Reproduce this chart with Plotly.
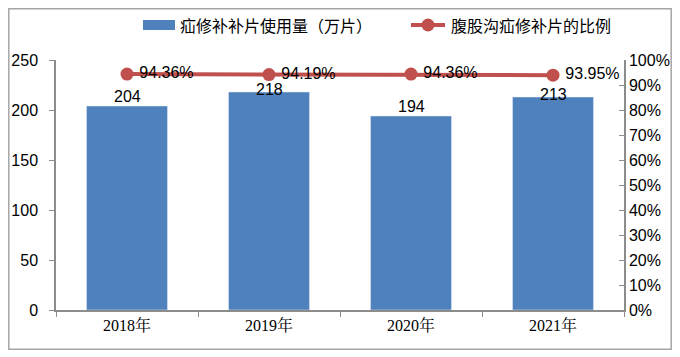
import plotly.graph_objects as go

categories = ["2018年", "2019年", "2020年", "2021年"]
usage = [204, 218, 194, 213]
ratio = [0.9436, 0.9419, 0.9436, 0.9395]
ratio_labels = ["94.36%", "94.19%", "94.36%", "93.95%"]
bar_name = "疝修补补片使用量（万片）"
line_name = "腹股沟疝修补片的比例"

FONT = "Liberation Sans, Arial, Noto Sans CJK SC, sans-serif"
CJK = "Noto Sans CJK SC, sans-serif"
BLUE = "#4F81BD"
RED = "#C0504D"
AXIS = "#8C8C8C"

# page body has an 8px margin, so the figure sits at (8, 8) in the window
OFF = 8
W, H = 672, 349
L, T = 56 - OFF, 60 - OFF
R = W - (624 - OFF)
B = H - (310 - OFF)
PW, PH = W - L - R, H - T - B
YMAX = 250


def px(x):
    return (x - OFF - L) / PW


def py(y):
    return (H - B - (y - OFF)) / PH


fig = go.Figure()
fig.add_trace(go.Bar(
    x=categories, y=usage, name=bar_name, marker_color=BLUE,
    width=0.57, showlegend=False,
))
fig.add_trace(go.Scatter(
    x=categories, y=ratio, name=line_name, yaxis="y2",
    mode="lines+markers+text",
    line=dict(color=RED, width=4), marker=dict(color=RED, size=13),
    text=ratio_labels, texttemplate="\u2009%{text}", textposition="middle right",
    textfont=dict(size=16, color="#000", family=FONT),
    cliponaxis=False, showlegend=False,
))

shapes = [
    dict(type="rect", xref="paper", yref="paper",
         x0=px(8.8), x1=px(671.2), y0=py(349.2), y1=py(8.8),
         line=dict(color="#A6A6A6", width=1.5), layer="below"),
    dict(type="rect", xref="paper", yref="paper",
         x0=px(143), x1=px(175), y0=py(30), y1=py(20),
         fillcolor=BLUE, line=dict(width=0)),
    dict(type="line", xref="paper", yref="paper",
         x0=px(411), x1=px(445), y0=py(25), y1=py(25),
         line=dict(color=RED, width=4)),
    dict(type="circle", xref="paper", yref="paper",
         x0=px(421.5), x1=px(434.5), y0=py(31.5), y1=py(18.5),
         fillcolor=RED, line=dict(width=0)),
]
annotations = [
    dict(xref="paper", yref="paper", x=px(178), y=py(25), xanchor="left", yanchor="middle",
         text=bar_name, showarrow=False, font=dict(size=16, family=CJK, color="#000")),
    dict(xref="paper", yref="paper", x=px(449), y=py(25), xanchor="left", yanchor="middle",
         text=line_name, showarrow=False, font=dict(size=16, family=CJK, color="#000")),
]
# bar value labels: above the bar, nudged down onto the bar top when they
# would otherwise run into the line labels
for c, v in zip(categories, usage):
    crowded = v / YMAX > 0.85
    annotations.append(dict(
        x=c, y=v, xref="x", yref="y", text=str(v), showarrow=False,
        xanchor="center", yanchor="middle", yshift=3 if crowded else 10,
        font=dict(size=16, family=FONT, color="#000"),
    ))

fig.update_layout(
    width=W, height=H,
    margin=dict(l=L, r=R, t=T, b=B, autoexpand=False),
    paper_bgcolor="white", plot_bgcolor="white",
    font=dict(family=FONT, size=16, color="#000"),
    showlegend=False,
    bargap=0.43,
    xaxis=dict(showline=True, linecolor=AXIS, linewidth=1.5, ticks="outside",
               tickson="boundaries", ticklen=5, tickcolor=AXIS,
               tickfont=dict(size=16, family="Liberation Serif, Noto Serif CJK SC, Noto Sans CJK SC"),
               showgrid=False, automargin=False),
    yaxis=dict(range=[0, YMAX], dtick=50, showline=True, linecolor=AXIS, linewidth=1.5,
               ticks="outside", ticklen=5, tickcolor=AXIS, showgrid=False,
               zeroline=False, tickfont=dict(size=16), ticklabelstandoff=8, automargin=False),
    yaxis2=dict(range=[0, 1], dtick=0.1, tickformat=".0%", overlaying="y", side="right",
                showline=True, linecolor=AXIS, linewidth=1.5, ticks="inside", ticklen=5,
                tickcolor=AXIS, showgrid=False, zeroline=False, tickfont=dict(size=16),
                automargin=False),
    shapes=shapes,
    annotations=annotations,
)

fig.write_html("out.html")
